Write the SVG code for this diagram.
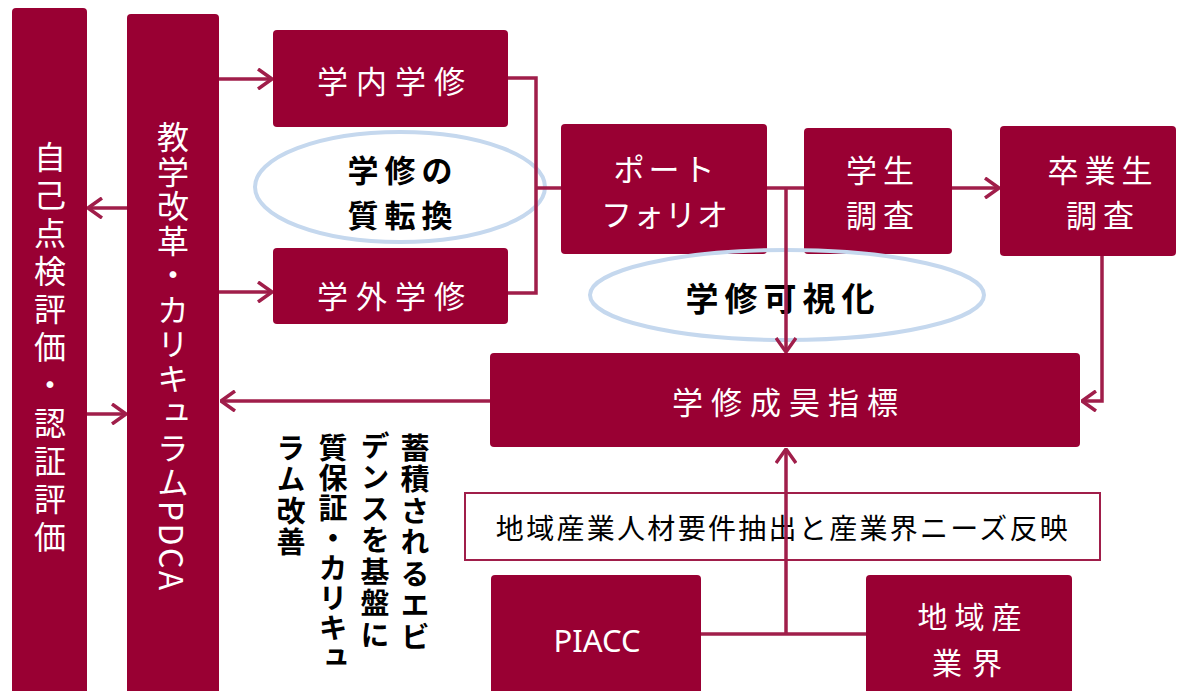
<svg xmlns="http://www.w3.org/2000/svg" width="1190" height="691" viewBox="0 0 1190 691">
<defs>
<style>
.box{fill:#990033;}
.wt{fill:#ffffff;font-family:"Noto Sans CJK JP","Noto Sans CJK SC",sans-serif;font-size:31px;letter-spacing:8px;text-anchor:middle;dominant-baseline:central;}
.bt{fill:#000000;font-family:"Noto Sans CJK JP","Noto Sans CJK SC",sans-serif;font-weight:bold;text-anchor:middle;dominant-baseline:central;}
.ell{fill:none;stroke:#c5d8ee;stroke-width:4;}
.vt{writing-mode:vertical-rl;}
.con{fill:none;stroke:#a01e4a;stroke-width:3.5;}
.arr{marker-end:url(#ah);}
</style>
<marker id="ah" viewBox="0 0 16 22" refX="15" refY="11" markerWidth="16" markerHeight="22" markerUnits="userSpaceOnUse" orient="auto">
<path d="M1,1 L15,11 L1,21" fill="none" stroke="#a01e4a" stroke-width="3.5"/>
</marker>
</defs>
<rect width="1190" height="691" fill="#ffffff"/>

<g id="bar-self-eval">
<rect class="box" x="12" y="8" width="75" height="700" rx="4"/>
<text class="wt vt" x="50" y="350" style="font-size:32px;letter-spacing:6px;">自己点検評価・認証評価</text>
</g>
<g id="bar-pdca">
<rect class="box" x="127" y="14" width="92" height="700" rx="4"/>
<text class="wt vt" x="173" y="357" style="font-size:32px;letter-spacing:2.5px;">教学改革・カリキュラムPDCA</text>
</g>

<g id="node-gakunai">
<rect class="box" x="273" y="30" width="235" height="97" rx="4"/>
<text class="wt" x="395" y="79">学内学修</text>
</g>
<g id="node-gakugai">
<rect class="box" x="273" y="248" width="235" height="76" rx="4"/>
<text class="wt" x="395" y="294">学外学修</text>
</g>
<g id="node-portfolio">
<rect class="box" x="561" y="124" width="206" height="130" rx="4"/>
<text class="wt" x="666" y="167" style="letter-spacing:4px;">ポート</text>
<text class="wt" x="665" y="212" style="letter-spacing:1px;">フォリオ</text>
</g>
<g id="node-student-survey">
<rect class="box" x="804" y="128" width="148" height="126" rx="4"/>
<text class="wt" x="883" y="168" style="letter-spacing:6px;">学生</text>
<text class="wt" x="883" y="213" style="letter-spacing:6px;">調査</text>
</g>
<g id="node-graduate-survey">
<rect class="box" x="1000" y="126" width="176" height="130" rx="4"/>
<text class="wt" x="1103" y="168" style="letter-spacing:6px;">卒業生</text>
<text class="wt" x="1103" y="213" style="letter-spacing:6px;">調査</text>
</g>
<g id="node-indicator">
<rect class="box" x="490" y="353" width="590" height="94" rx="4"/>
<text class="wt" x="789" y="400">学修成昊指標</text>
</g>
<g id="node-piacc">
<rect class="box" x="491" y="575" width="210" height="130" rx="4"/>
<text x="597" y="640" fill="#ffffff" font-family="'Noto Sans','Liberation Sans',sans-serif" font-size="31" text-anchor="middle" dominant-baseline="central">PIACC</text>
</g>
<g id="node-industry">
<rect class="box" x="866" y="575" width="206" height="130" rx="4"/>
<text class="wt" x="973" y="615" style="font-size:30px;letter-spacing:7px;">地域産</text>
<text class="wt" x="972" y="661" style="font-size:30px;letter-spacing:10px;">業界</text>
</g>

<g id="note-quality">
<ellipse class="ell" cx="400" cy="187" rx="145" ry="55"/>
<text class="bt" x="403" y="168" font-size="31" letter-spacing="6">学修の</text>
<text class="bt" x="403" y="213" font-size="31" letter-spacing="6">質転換</text>
</g>
<g id="note-visualize">
<ellipse class="ell" cx="787" cy="295" rx="197" ry="45"/>
<text class="bt" x="783" y="297" font-size="33" letter-spacing="6">学修可視化</text>
</g>
<g id="note-industry-label">
<rect x="465" y="493" width="635" height="67" fill="#ffffff" stroke="#a01e4a" stroke-width="2"/>
<text x="783" y="527" fill="#000000" font-family="'Noto Sans CJK JP','Noto Sans CJK SC',sans-serif" font-size="28" letter-spacing="2.3" text-anchor="middle" dominant-baseline="central">地域産業人材要件抽出と産業界ニーズ反映</text>
</g>
<g id="note-evidence" fill="#000000" font-family="'Noto Sans CJK JP','Noto Sans CJK SC',sans-serif" font-weight="bold" font-size="29" letter-spacing="2.5">
<text class="vt" x="415" y="433">蓄積されるエビ</text>
<text class="vt" x="375" y="431">デンスを基盤に</text>
<text class="vt" x="333" y="433" letter-spacing="1">質保証・カリキュ</text>
<text class="vt" x="291" y="433">ラム改善</text>
</g>

<g id="connectors">
<path class="con arr" d="M219,79 H272"/>
<path class="con arr" d="M219,292 H272"/>
<path class="con arr" d="M127,208 H88"/>
<path class="con arr" d="M87,414 H126"/>
<path class="con arr" d="M490,401 H221"/>
<path class="con" d="M508,78 H536 V293 H508"/>
<path class="con" d="M536,188 H561"/>
<path class="con" d="M767,188 H804"/>
<path class="con arr" d="M786,188 V352"/>
<path class="con arr" d="M952,188 H999"/>
<path class="con arr" d="M1102,256 V401 H1082"/>
<path class="con" d="M701,634 H866"/>
<path class="con arr" d="M786,634 V449"/>
</g>
</svg>
